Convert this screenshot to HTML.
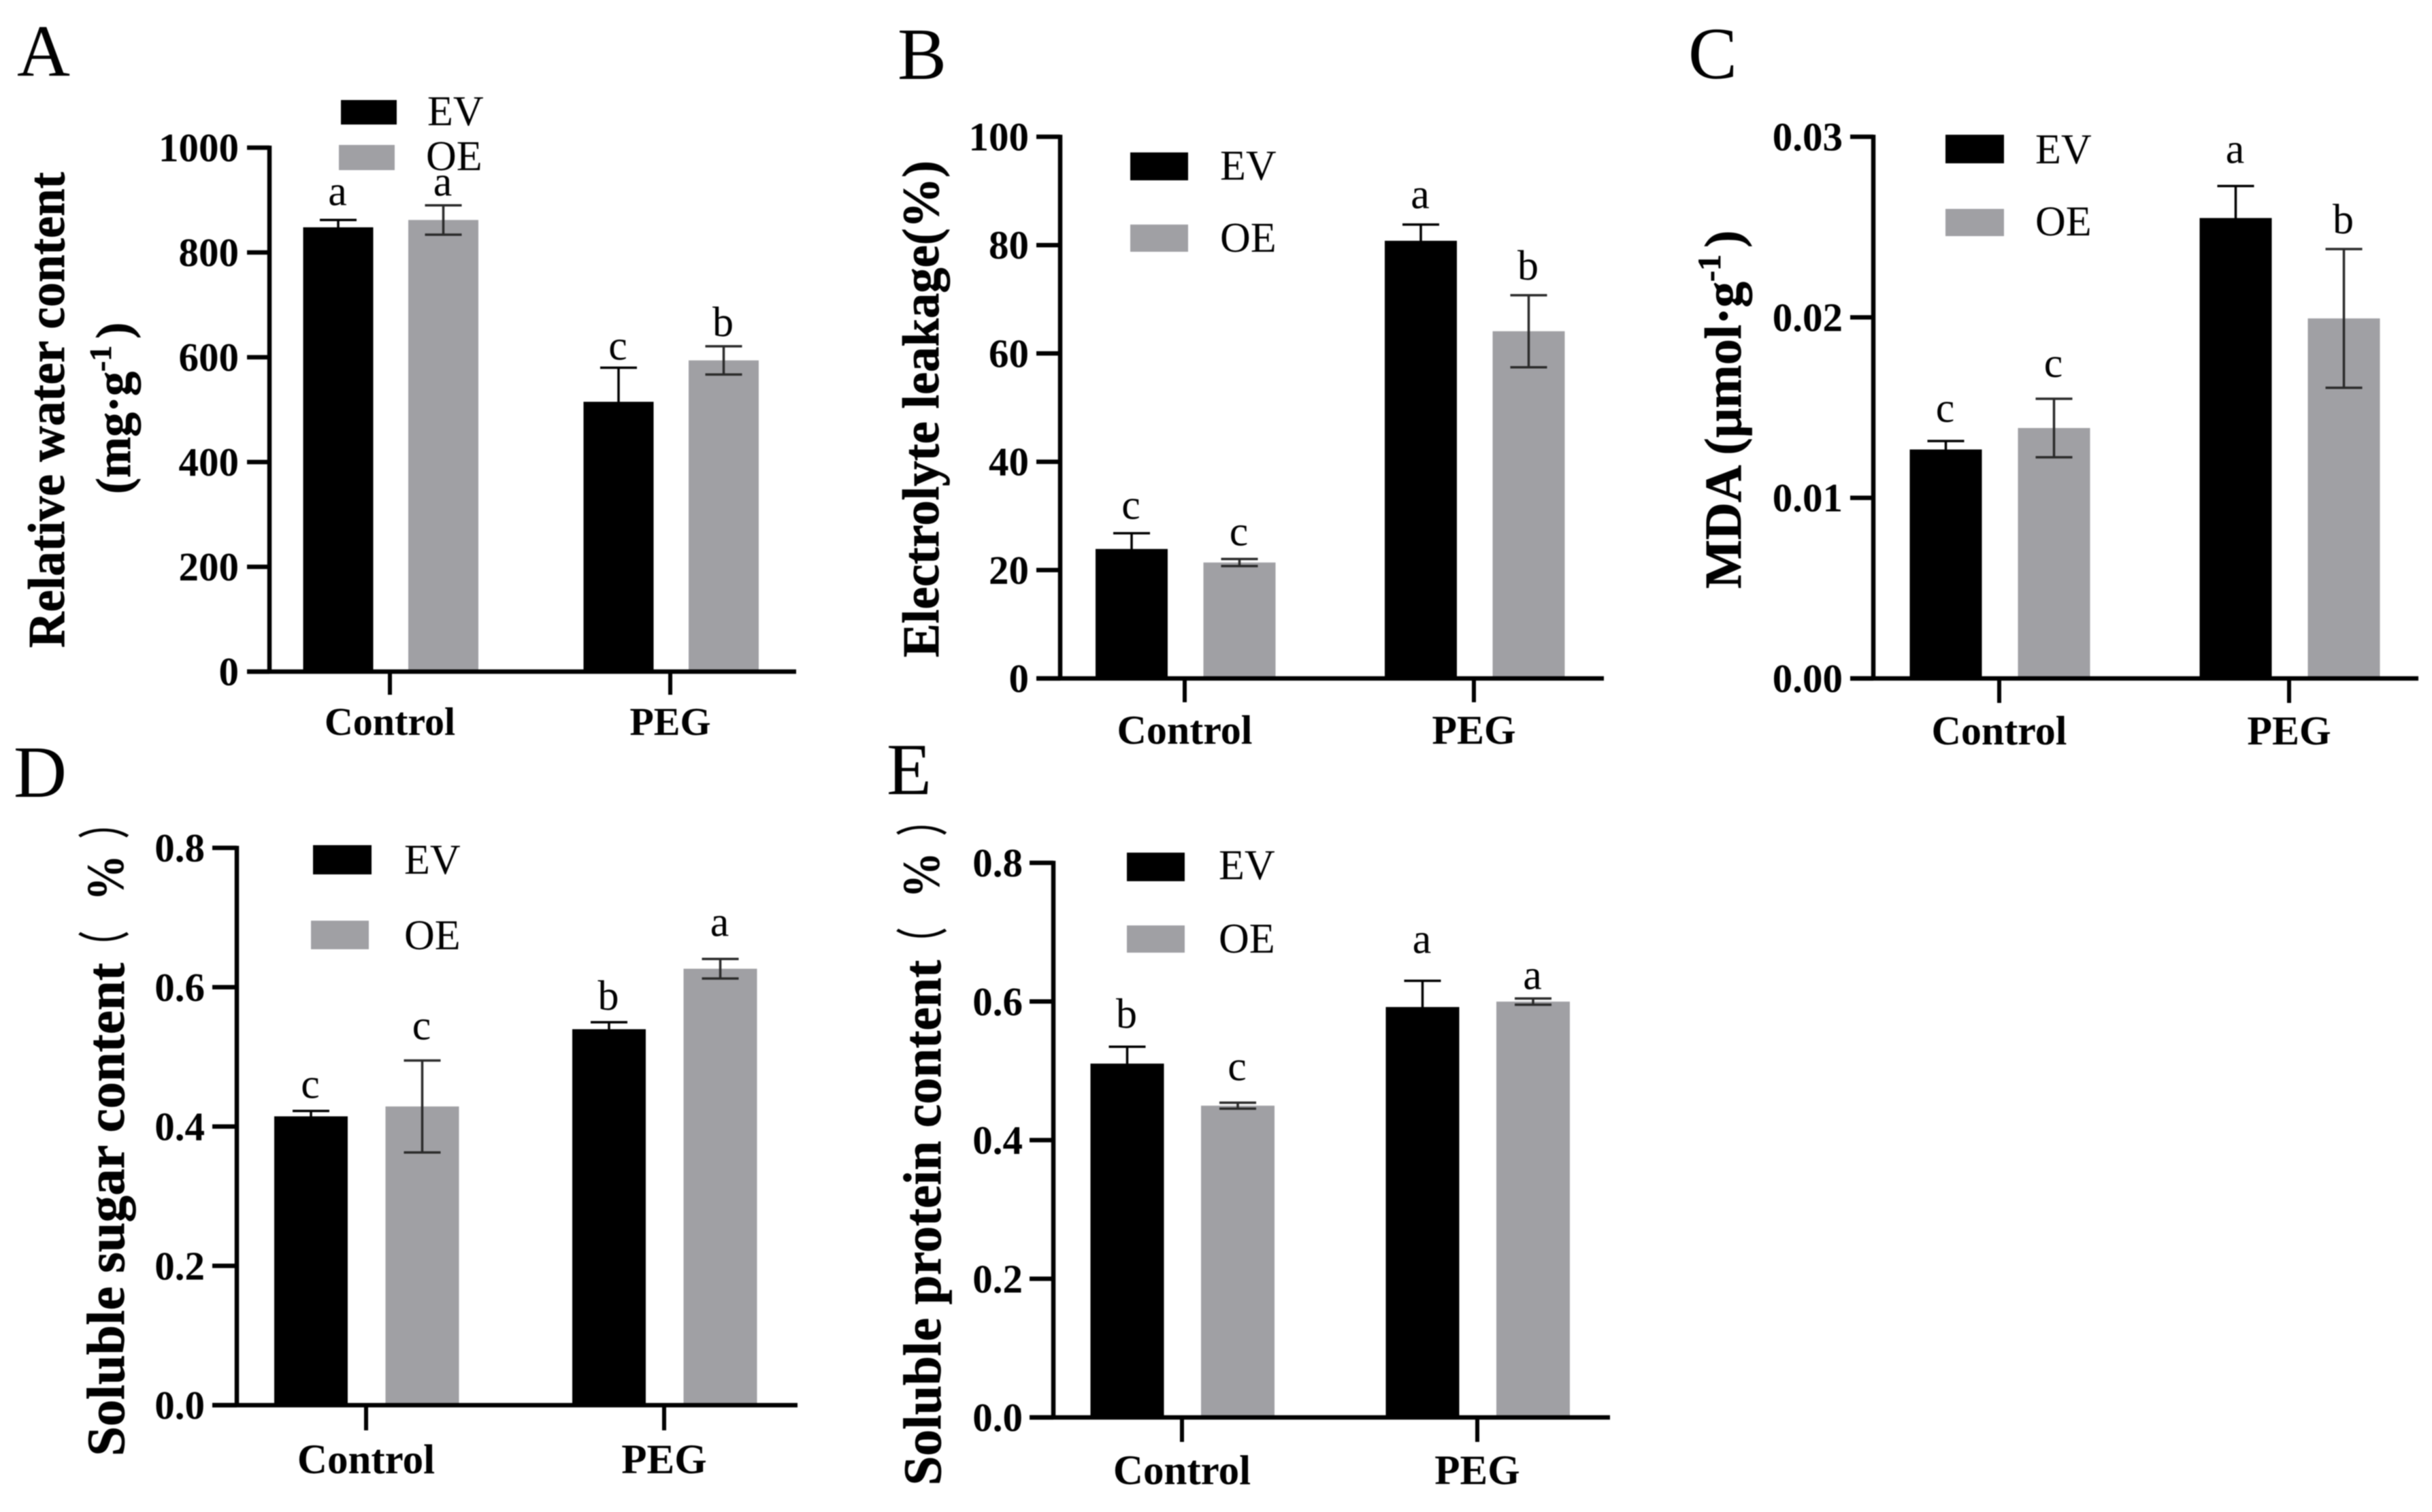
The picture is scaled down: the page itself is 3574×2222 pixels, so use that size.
<!DOCTYPE html>
<html lang="en">
<head>
<meta charset="utf-8">
<title>Five bar chart panels comparing EV and OE</title>
<style>
html,body{margin:0;padding:0;background:#fff;}
svg{display:block;filter:blur(0.8px);}
text{font-family:"Liberation Serif","Noto Serif CJK SC",serif;fill:#000;}
.bold{font-weight:bold;}
.plet{font-size:108px;}
.leg{font-size:62px;}
.ttl{font-weight:bold;font-size:76px;stroke:#000;stroke-width:0.8px;}
.pct{font-weight:bold;font-size:78px;}
.par{font-family:"Liberation Serif","Noto Sans CJK SC",sans-serif;font-size:76px;stroke:#000;stroke-width:1.5px;}
</style>
</head>
<body>
<svg id="chart" xmlns="http://www.w3.org/2000/svg" width="3574" height="2222" viewBox="0 0 3574 2222">
  <rect x="0" y="0" width="3574" height="2222" fill="#fff"/>

  <g id="panel-a">
    <text class="plet" x="25" y="111">A</text>
    <text class="ttl" transform="translate(94,952) rotate(-90)" textLength="699" lengthAdjust="spacingAndGlyphs">Relative water content</text>
    <text class="ttl" style="font-size:72px" transform="translate(191,726) rotate(-90)">(mg·g<tspan dy="-28" style="font-size:46px">-1</tspan><tspan dy="28" dx="10">)</tspan></text>
    <rect x="501" y="147" width="82" height="36" fill="#000"/>
    <text class="leg" x="628" y="184">EV</text>
    <rect x="498" y="213" width="82" height="37" fill="#A0A0A4"/>
    <text class="leg" x="626" y="250">OE</text>
  </g>

  <g id="panel-b">
    <text class="plet" x="1319" y="116">B</text>
    <text class="ttl" transform="translate(1379,966) rotate(-90)" textLength="730" lengthAdjust="spacingAndGlyphs">Electrolyte leakage(%)</text>
    <rect x="1661" y="224" width="85" height="41" fill="#000"/>
    <text class="leg" x="1793" y="264">EV</text>
    <rect x="1661" y="330" width="85" height="40" fill="#A0A0A4"/>
    <text class="leg" x="1793" y="370">OE</text>
  </g>

  <g id="panel-c">
    <text class="plet" x="2481" y="115">C</text>
    <text class="ttl" transform="translate(2558,865) rotate(-90)">MDA (µmol·g<tspan dy="-30" style="font-size:48px">-1</tspan><tspan dy="30" dx="10">)</tspan></text>
    <rect x="2859" y="198" width="86" height="42" fill="#000"/>
    <text class="leg" x="2991" y="240">EV</text>
    <rect x="2859" y="307" width="86" height="40" fill="#A0A0A4"/>
    <text class="leg" x="2991" y="346">OE</text>
  </g>

  <g id="panel-d">
    <text class="plet" x="20" y="1171">D</text>
    <text class="ttl" style="font-size:78px" transform="translate(182,2140) rotate(-90)" textLength="725" lengthAdjust="spacingAndGlyphs">Soluble sugar content</text>
    <text class="par" transform="translate(181,1414) rotate(-90) scale(0.6,1)">（</text>
    <text class="pct" transform="translate(181,1324) rotate(-90)" textLength="68" lengthAdjust="spacingAndGlyphs">%</text>
    <text class="par" transform="translate(181,1232) rotate(-90) scale(0.6,1)">）</text>
    <rect x="460" y="1242" width="86" height="43" fill="#000"/>
    <text class="leg" x="594" y="1284">EV</text>
    <rect x="457" y="1353" width="85" height="42" fill="#A0A0A4"/>
    <text class="leg" x="594" y="1395">OE</text>
  </g>

  <g id="panel-e">
    <text class="plet" x="1303" y="1167">E</text>
    <text class="ttl" style="font-size:78px" transform="translate(1382,2183) rotate(-90)" textLength="772" lengthAdjust="spacingAndGlyphs">Soluble protein content</text>
    <text class="par" transform="translate(1383,1409) rotate(-90) scale(0.6,1)">（</text>
    <text class="pct" transform="translate(1380,1320) rotate(-90)" textLength="68" lengthAdjust="spacingAndGlyphs">%</text>
    <text class="par" transform="translate(1383,1228) rotate(-90) scale(0.6,1)">）</text>
    <rect x="1656" y="1253" width="85" height="42" fill="#000"/>
    <text class="leg" x="1791" y="1292">EV</text>
    <rect x="1656" y="1360" width="85" height="40" fill="#A0A0A4"/>
    <text class="leg" x="1791" y="1400">OE</text>
  </g>
</svg>

<script>
// Shared categories
const categories = ['Control', 'PEG'];

// Panel A: Relative water content
const panelATicks = ['0', '200', '400', '600', '800', '1000'];
const panelAEv = [848, 515];
const panelAOe = [862, 594];
const panelAEvErr = [14, 65];
const panelAOeErr = [28, 27];
const panelAEvSig = ['a', 'c'];
const panelAOeSig = ['a', 'b'];

// Panel B: Electrolyte leakage
const panelBTicks = ['0', '20', '40', '60', '80', '100'];
const panelBEv = [23.9, 80.8];
const panelBOe = [21.4, 64.1];
const panelBEvErr = [2.9, 3.0];
const panelBOeErr = [0.65, 6.65];
const panelBEvSig = ['c', 'a'];
const panelBOeSig = ['c', 'b'];

// Panel C: MDA
const panelCTicks = ['0.00', '0.01', '0.02', '0.03'];
const panelCEv = [0.01268, 0.0255];
const panelCOe = [0.01387, 0.01994];
const panelCEvErr = [0.00047, 0.00177];
const panelCOeErr = [0.00162, 0.00384];
const panelCEvSig = ['c', 'a'];
const panelCOeSig = ['c', 'b'];

// Panel D: Soluble sugar content
const panelDTicks = ['0.0', '0.2', '0.4', '0.6', '0.8'];
const panelDEv = [0.4146, 0.5397];
const panelDOe = [0.4288, 0.6265];
const panelDEvErr = [0.0078, 0.01];
const panelDOeErr = [0.066, 0.014];
const panelDEvSig = ['c', 'b'];
const panelDOeSig = ['c', 'a'];

// Panel E: Soluble protein content
const panelETicks = ['0.0', '0.2', '0.4', '0.6', '0.8'];
const panelEEv = [0.5104, 0.592];
const panelEOe = [0.4497, 0.5998];
const panelEEvErr = [0.0243, 0.0378];
const panelEOeErr = [0.0043, 0.0045];
const panelEEvSig = ['b', 'a'];
const panelEOeSig = ['c', 'a'];

const SVG_NS = 'http://www.w3.org/2000/svg';
const GREY = '#A0A0A4';

function make(tag, attrs, parent) {
  const el = document.createElementNS(SVG_NS, tag);
  for (const k in attrs) el.setAttribute(k, attrs[k]);
  parent.appendChild(el);
  return el;
}

function drawPanel(p) {
  const root = document.getElementById(p.id);
  const yMax = parseFloat(p.ticks[p.ticks.length - 1]);
  const y = v => p.bottom - (v / yMax) * (p.bottom - p.top);
  const groupX = i => p.cat0 + i * p.catStep;
  const barX = (i, s) => groupX(i) + (s === 0 ? p.offEv : p.offOe);

  const series = [
    { key: 'ev', vals: p.ev, errs: p.evErr, sig: p.evSig, fill: '#000', err: '#000' },
    { key: 'oe', vals: p.oe, errs: p.oeErr, sig: p.oeSig, fill: GREY, err: '#2a2a2a' }
  ];

  series.forEach((s, si) => {
    s.vals.forEach((v, i) => {
      const cx = barX(i, si);
      const bar = make('rect', { x: cx - p.barW / 2, y: y(v), width: p.barW, height: p.bottom - y(v), fill: s.fill }, root);
      
      

      const top = y(v + s.errs[i]);
      const low = y(v - s.errs[i]);
      const stem = make('line', { x1: cx, x2: cx, y1: top, y2: low, stroke: s.err, 'stroke-width': 3.5 }, root);
      
      
      const capTop = make('line', { x1: cx - 27, x2: cx + 27, y1: top, y2: top, stroke: s.err, 'stroke-width': 3.5 }, root);
      
      
      const capLow = make('line', { x1: cx - 27, x2: cx + 27, y1: low, y2: low, stroke: s.err, 'stroke-width': 3.5 }, root);
      
      

      const sig = make('text', { x: cx - 1, y: top - p.sigGap[si][i], 'text-anchor': 'middle', style: 'font-size:62px' }, root);
      sig.textContent = s.sig[i];
      
      
    });
  });

  const yAxis = make('line', { x1: p.left, x2: p.left, y1: p.top - 3, y2: p.bottom + 3, stroke: '#000', 'stroke-width': 6.5 }, root);
  
  
  const xAxis = make('line', { x1: p.tickLeft, x2: p.right, y1: p.bottom, y2: p.bottom, stroke: '#000', 'stroke-width': 6.5 }, root);
  
  

  p.ticks.forEach(label => {
    const ty = y(parseFloat(label));
    const tick = make('line', { x1: p.tickLeft, x2: p.left, y1: ty, y2: ty, stroke: '#000', 'stroke-width': 6.5 }, root);
    
    
    const t = make('text', { x: p.labelRight, y: ty + 20, 'text-anchor': 'end', class: 'bold', style: 'font-size:59px' }, root);
    t.textContent = label;
    
    
  });

  categories.forEach((c, i) => {
    const cx = groupX(i);
    const tick = make('line', { x1: cx, x2: cx, y1: p.bottom, y2: p.tickBottom, stroke: '#000', 'stroke-width': 6 }, root);
    
    
    const t = make('text', { x: cx, y: p.catBase, 'text-anchor': 'middle', class: 'bold', style: 'font-size:' + p.catFont + 'px' }, root);
    t.textContent = c;
    
    
  });
}

drawPanel({ id: 'panel-a', ticks: panelATicks, ev: panelAEv, oe: panelAOe, evErr: panelAEvErr, oeErr: panelAOeErr, evSig: panelAEvSig, oeSig: panelAOeSig,
  left: 396, right: 1170, top: 217, bottom: 987, tickLeft: 363, tickBottom: 1021, labelRight: 351,
  cat0: 573, catStep: 412, offEv: -76, offOe: 78.5, barW: 103, catBase: 1080, catFont: 58,
  sigGap: [[22, 12], [14, 15]] });

drawPanel({ id: 'panel-b', ticks: panelBTicks, ev: panelBEv, oe: panelBOe, evErr: panelBEvErr, oeErr: panelBOeErr, evSig: panelBEvSig, oeSig: panelBOeSig,
  left: 1558, right: 2357, top: 201, bottom: 997, tickLeft: 1523, tickBottom: 1032, labelRight: 1512,
  cat0: 1741, catStep: 425, offEv: -78, offOe: 80.5, barW: 106, catBase: 1093, catFont: 60,
  sigGap: [[21, 24], [20, 23]] });

drawPanel({ id: 'panel-c', ticks: panelCTicks, ev: panelCEv, oe: panelCOe, evErr: panelCEvErr, oeErr: panelCOeErr, evSig: panelCEvSig, oeSig: panelCOeSig,
  left: 2753, right: 3554, top: 201, bottom: 997, tickLeft: 2719, tickBottom: 1033, labelRight: 2708,
  cat0: 2938, catStep: 426, offEv: -78.5, offOe: 80.5, barW: 106, catBase: 1094, catFont: 60,
  sigGap: [[28, 34], [32, 23]] });

drawPanel({ id: 'panel-d', ticks: panelDTicks, ev: panelDEv, oe: panelDOe, evErr: panelDEvErr, oeErr: panelDOeErr, evSig: panelDEvSig, oeSig: panelDOeSig,
  left: 348, right: 1172, top: 1246, bottom: 2065, tickLeft: 312, tickBottom: 2102, labelRight: 301,
  cat0: 538, catStep: 438, offEv: -81, offOe: 82.5, barW: 108, catBase: 2165, catFont: 61,
  sigGap: [[19, 18], [31, 34]] });

drawPanel({ id: 'panel-e', ticks: panelETicks, ev: panelEEv, oe: panelEOe, evErr: panelEEvErr, oeErr: panelEOeErr, evSig: panelEEvSig, oeSig: panelEOeSig,
  left: 1548, right: 2366, top: 1268, bottom: 2083, tickLeft: 1513, tickBottom: 2119, labelRight: 1503,
  cat0: 1737, catStep: 434, offEv: -80.5, offOe: 82, barW: 108, catBase: 2181, catFont: 61,
  sigGap: [[28, 41], [33, 14]] });
</script>
</body>
</html>
